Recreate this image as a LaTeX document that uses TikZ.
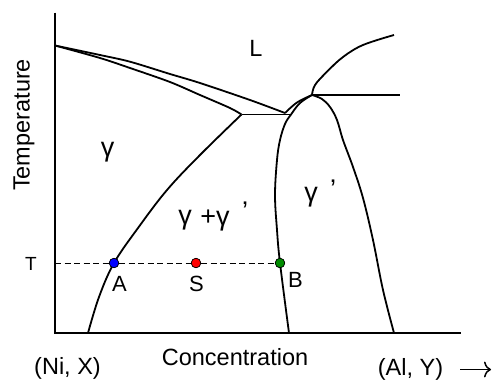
\documentclass[tikz,border=0pt]{standalone}
\usepackage{fontspec}
\setmainfont{Liberation Sans}
\usetikzlibrary{arrows.meta}
\begin{document}
\begin{tikzpicture}[x=1pt,y=-1pt,
  curve/.style={line width=1.8pt, line join=round},
  axis/.style={line width=1.9pt},
  lbl/.style={inner sep=0pt, font=\fontsize{23.5}{27}\selectfont},
  glbl/.style={inner sep=0pt, font=\fontsize{27}{30}\selectfont},
  pt/.style={circle, draw=black, line width=0.6pt, inner sep=0pt, minimum size=9.5pt}]
\useasboundingbox (0,0) rectangle (495,381);
% axes
\coordinate (O) at (55,333);
\coordinate (Ytop) at (55,12.5);
\coordinate (Xend) at (461,333);
\draw[axis] (Ytop) -- (O) -- (Xend);
% key points
\coordinate (L0) at (55,45.5);
\coordinate (J1) at (241.5,114.5);
\coordinate (J2) at (285,113);
\coordinate (J3) at (291,114.5);
\coordinate (P) at (312,95);
% liquidus and solidus
\draw[curve] plot[smooth, tension=0.5] coordinates {(L0) (100,55) (130,61.7) (170,74) (200,83) (250,100) (J2)};
\draw[curve] plot[smooth, tension=0.5] coordinates {(L0) (100,58) (130,68) (170,82) (200,95) (230,108) (J1)};
\draw[curve] (J1) -- (J3);
% gamma solvus
\draw[curve] plot[smooth, tension=0.6] coordinates {(J1) (200,155) (167,190) (138,228) (114,263) (99,297) (88,333)};
% small arc to peak
\draw[curve] plot[smooth, tension=0.6] coordinates {(J2) (297,102.5) (P)};
% gamma' left boundary
\draw[curve] plot[smooth, tension=0.6] coordinates {(P) (300,103) (J3) (285,124) (280,140) (277,160) (275,195) (277,230) (280,263) (289,333)};
% gamma' right boundary
\draw[curve] plot[smooth, tension=0.6] coordinates {(P) (322,99) (330,107) (337,120) (343,140) (353,167) (363,198) (373,240) (383,290) (394,333)};
% horizontal at peak
\coordinate (H2) at (400,95);
\draw[curve] (P) -- (H2);
% upper right curve
\draw[curve] plot[smooth, tension=0.6] coordinates {(P) (315,85) (327,71.7) (343,57) (363,45) (394,35)};
% tie line
\coordinate (T0) at (55,263);
\node[pt, fill=blue] (A) at (114,263) {};
\node[pt, fill=red] (S) at (196,263) {};
\node[pt, fill={rgb,255:red,0;green,140;blue,0}] (B) at (280,263) {};
\draw[dashed, dash pattern=on 6pt off 3.5pt, line width=0.9pt] (T0) -- (A) -- (S) -- (B);
\node[pt, fill=blue] at (A) {};
\node[pt, fill=red] at (S) {};
\node[pt, fill={rgb,255:red,0;green,140;blue,0}] at (B) {};
% labels
\node[lbl] (lL) at (256,48.5) {L};
\node[glbl] (lg) at (107.5,152.5) {γ};
\node[glbl] (lg2a) at (185,220) {γ};
\node[glbl] (lg2b) at (215,220) {+γ};
\node[glbl] (lg2c) at (245,211) {’};
\node[glbl] (lg3a) at (311,197) {γ};
\node[glbl] (lg3b) at (333,189) {’};
\node[lbl, font=\fontsize{19}{22}\selectfont] (lT) at (31,263.5) {T};
\node[lbl, font=\fontsize{22}{25}\selectfont] (lA) at (119.5,283.5) {A};
\node[lbl, font=\fontsize{22}{25}\selectfont] (lS) at (196.5,283.5) {S};
\node[lbl, font=\fontsize{22}{25}\selectfont] (lB) at (295.5,279.5) {B};
\node[lbl, rotate=90] (temp) at (24,125) {Temperature};
\node[lbl] (conc) at (235,357) {Concentration};
\node[lbl] (ni) at (67.5,368) {(Ni, X)};
\node[lbl] (al) at (410.5,369) {(Al, Y)};
% arrow
\coordinate (arrS) at (460,369.5);
\coordinate (arrE) at (491,369.5);
\draw[line width=1.5pt, -{Computer Modern Rightarrow[length=7pt,width=16pt,line width=1.5pt]}] (arrS) -- (arrE);
\end{tikzpicture}
\end{document}
